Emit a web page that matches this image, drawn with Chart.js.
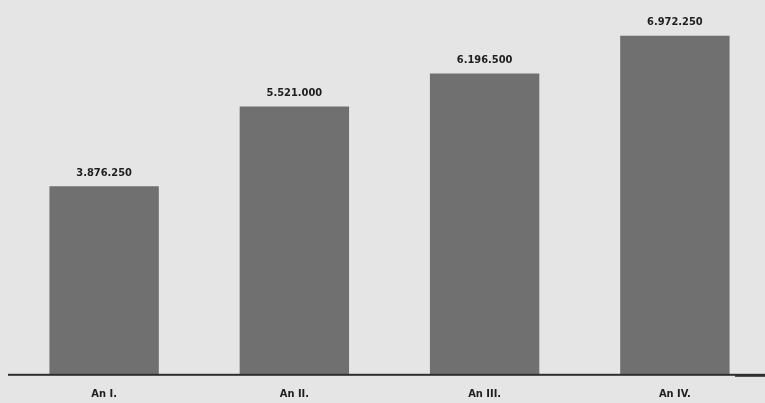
<!DOCTYPE html>
<html><head><meta charset="utf-8">
<script src="https://cdn.jsdelivr.net/npm/chart.js@4"></script>
<style>
html,body{margin:0;padding:0;background:#e5e5e5;overflow:hidden;}
#wrap{position:relative;width:765px;height:403px;overflow:hidden;}
</style></head>
<body><div id="wrap"><canvas id="c" width="775" height="414"></canvas></div>
<script>
const categories = ["An I.", "An II.", "An III.", "An IV."];
const values = [3876250, 5521000, 6196500, 6972250];
const valueLabels = ["3.876.250", "5.521.000", "6.196.500", "6.972.250"];

const labelPlugin = {
  id: 'vlabels',
  afterDatasetsDraw(chart) {
    const ctx = chart.ctx;
    const meta = chart.getDatasetMeta(0);
    ctx.save();
    ctx.font = 'bold 11px "Liberation Sans Narrow", "DejaVu Sans Condensed", Arial';
    ctx.fillStyle = '#1e1e1e';
    ctx.textAlign = 'center';
    ctx.textBaseline = 'bottom';
    meta.data.forEach((bar, i) => {
      ctx.fillText(valueLabels[i], bar.x, bar.y - 8);
    });
    const y = chart.scales.y.getPixelForValue(0);
    ctx.fillStyle = '#2e2e2e';
    ctx.fillRect(8, y - 1, 727, 2);
    ctx.fillRect(735, y - 1, 40, 3);
    ctx.restore();
  }
};

new Chart(document.getElementById('c'), {
  type: 'bar',
  data: {
    labels: categories,
    datasets: [{
      data: values,
      backgroundColor: '#707070',
      borderWidth: 0,
      barPercentage: 0.575,
      categoryPercentage: 1.0
    }]
  },
  options: {
    responsive: false,
    animation: false,
    devicePixelRatio: 1,
    layout: { padding: { left: 9, right: 5, top: 0, bottom: 0 } },
    plugins: { legend: { display: false }, tooltip: { enabled: false } },
    scales: {
      x: {
        grid: { display: false, drawTicks: false },
        border: { display: false },
        ticks: {
          color: '#1e1e1e',
          padding: 13,
          font: { family: '"Liberation Sans Narrow", "DejaVu Sans Condensed", Arial', size: 11, weight: 'bold' }
        }
      },
      y: {
        display: false,
        min: 0,
        max: 7710000
      }
    }
  },
  plugins: [labelPlugin]
});
</script></body></html>
